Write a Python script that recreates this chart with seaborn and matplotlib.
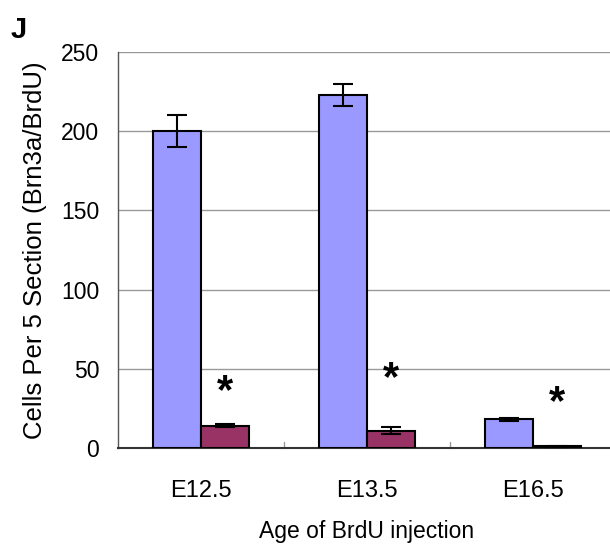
import matplotlib
matplotlib.use("Agg")
import matplotlib.pyplot as plt
import seaborn as sns
import pandas as pd

categories = ["E12.5", "E13.5", "E16.5"]
groups = ["Control", "Mutant"]
control_vals = [200, 223, 18]
control_err = [10, 7, 1.2]
mutant_vals = [14, 11, 1]
mutant_err = [1, 2, 0.5]
star_y = [40.4, 48.6, 33.4]
yticks = [0, 50, 100, 150, 200, 250]

df = pd.DataFrame({
    "age": categories * 2,
    "group": [groups[0]] * 3 + [groups[1]] * 3,
    "value": control_vals + mutant_vals,
})

sns.set_style("white", {"text.color": "black", "axes.labelcolor": "black",
                        "xtick.color": "black", "ytick.color": "black"})
plt.rcParams['font.family'] = ['Liberation Sans', 'DejaVu Sans']

fig = plt.figure(figsize=(6.10, 5.55), dpi=100)
ax = fig.add_axes([118/610, 1 - 448/555, 498/610, 396/555])

sns.barplot(data=df, x="age", y="value", hue="group", order=categories,
            hue_order=groups, palette=["#9999FF", "#993366"], width=0.58,
            saturation=1, errorbar=None, edgecolor="black", linewidth=1.5,
            ax=ax, legend=False, zorder=3)

plist = sorted(ax.patches, key=lambda p: p.get_x())
vals, errs = [], []
for i in range(3):
    vals += [control_vals[i], mutant_vals[i]]
    errs += [control_err[i], mutant_err[i]]
xs = [p.get_x() + p.get_width() / 2 for p in plist]
ax.errorbar(xs, vals, yerr=errs, fmt="none", ecolor="black", elinewidth=1.5,
            capsize=7, capthick=1.5, zorder=4)
for i in range(3):
    ax.annotate("*", xy=(xs[2 * i + 1], star_y[i]), xytext=(0, -6),
                textcoords="offset points", ha="center", va="center",
                fontsize=30, fontweight="bold", color="black", zorder=5)

ax.set_ylim(0, 250)
ax.set_xlim(-0.5, 2.5)
ax.set_yticks(yticks)
ax.yaxis.grid(True, color="#999999", linewidth=1.0, zorder=0)
ax.set_axisbelow(True)
ax.tick_params(axis="y", length=0, labelsize=16.5, pad=13.5, labelcolor="black")
ax.tick_params(axis="x", length=0, labelsize=17, pad=23, labelcolor="black")
for x in [0.5, 1.5]:
    ax.plot([x, x], [0, 3.5], color="#999999", linewidth=1, zorder=2, clip_on=False)
for s in ["top", "right"]:
    ax.spines[s].set_visible(False)
ax.spines["left"].set_color("#555555")
ax.spines["left"].set_linewidth(1.0)
ax.spines["bottom"].set_color("#333333")
ax.spines["bottom"].set_linewidth(1.5)
ax.set_xlabel("Age of BrdU injection", fontsize=16.5, labelpad=13, color="black")
ax.set_ylabel("Cells Per 5 Section (Brn3a/BrdU)", fontsize=18.5, labelpad=10,
              color="black")
fig.text(19/610, 1 - 30/555, "J", fontsize=21, fontweight="bold",
         va="center", ha="center", color="black")

fig.savefig("out.png", dpi=100)
